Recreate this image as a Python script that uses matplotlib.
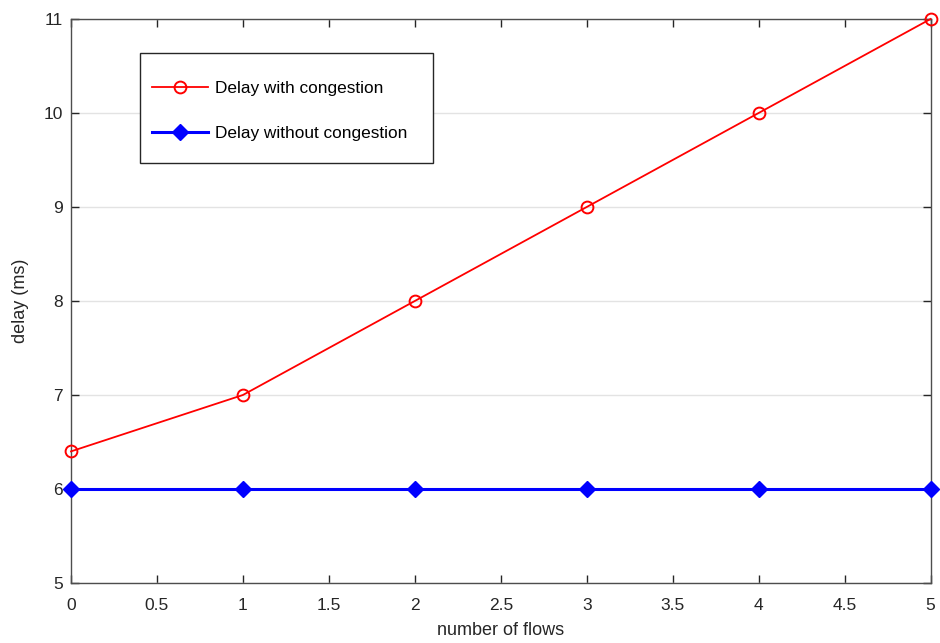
import matplotlib
matplotlib.use('Agg')
import matplotlib.pyplot as plt
from matplotlib.patches import Rectangle

plt.rcParams['font.family'] = ['Liberation Sans', 'DejaVu Sans']

# data
flows = [0, 1, 2, 3, 4, 5]
delay_congestion = [6.4, 7.0, 8.0, 9.0, 10.0, 11.0]
delay_no_congestion = [6, 6, 6, 6, 6, 6]
x_ticks = [0, 0.5, 1, 1.5, 2, 2.5, 3, 3.5, 4, 4.5, 5]
x_tick_labels = ['0', '0.5', '1', '1.5', '2', '2.5', '3', '3.5', '4', '4.5', '5']
y_ticks = [5, 6, 7, 8, 9, 10, 11]

fig = plt.figure(figsize=(9.4, 6.43), dpi=100)
ax = fig.add_axes([0.0755, 0.0933, 0.9145, 0.8772])

ax.plot(flows, delay_congestion, color='red', lw=1.3, marker='o', ms=8.5,
        mfc='none', mec='red', mew=1.4, label='Delay with congestion',
        clip_on=False, zorder=3)
ax.plot(flows, delay_no_congestion, color='blue', lw=2.2, marker='D', ms=8.5,
        mfc='blue', mec='blue', label='Delay without congestion',
        clip_on=False, zorder=3)

ax.set_xlim(0, 5)
ax.set_ylim(5, 11)
ax.set_xticks(x_ticks)
ax.set_xticklabels(x_tick_labels)
ax.set_yticks(y_ticks)
ax.tick_params(direction='in', length=6, width=1, colors='#262626',
               labelsize=12.5, top=True, right=True)
ax.tick_params(axis='x', pad=11)
ax.tick_params(axis='y', pad=6)
ax.yaxis.grid(True, color='#e3e3e3', lw=1)
ax.set_axisbelow(True)
for s in ax.spines.values():
    s.set_color('#4d4d4d')
    s.set_linewidth(1)

ax.set_xlabel('number of flows', fontsize=13, color='#262626', labelpad=6)
ax.set_ylabel('delay (ms)', fontsize=13, color='#262626', labelpad=10)

# legend box drawn by hand (MATLAB style padding), entries on top
ax.add_patch(Rectangle((0.080, 0.745), 0.341, 0.195, transform=ax.transAxes,
                       facecolor='white', edgecolor='#262626', lw=1, zorder=4))
leg = ax.legend(loc='center left', bbox_to_anchor=(0.0942, 0.837),
                fontsize=12.4, frameon=False, borderpad=0, labelspacing=1.7,
                handlelength=3.25, handletextpad=0.42, borderaxespad=0)
leg.set_zorder(5)

fig.savefig('out.png', dpi=100)
